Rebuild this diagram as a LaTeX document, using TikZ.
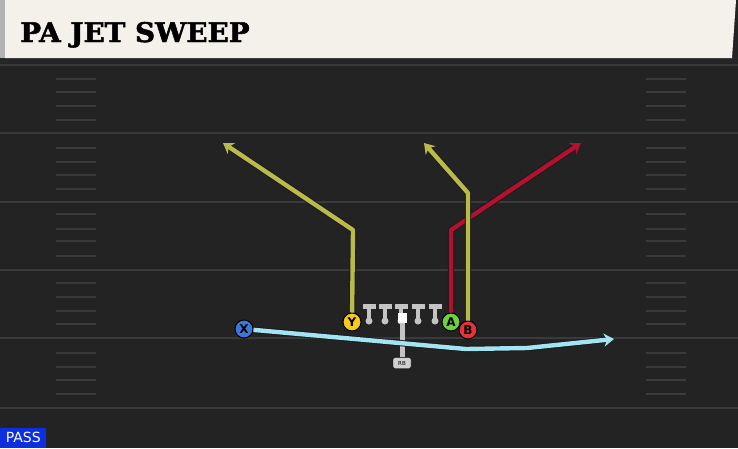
\documentclass[tikz,border=0pt]{standalone}
\usepackage{fontspec}
\setsansfont{DejaVu Sans}
\newfontfamily\titlefont[BoldFont={DejaVu Serif Bold}, BoldFeatures={FakeBold=1.8}]{DejaVu Serif}
\usetikzlibrary{arrows.meta}

\definecolor{field}{HTML}{232323}
\definecolor{yardgray}{HTML}{3A3A3A}
\definecolor{cream}{HTML}{F4F1EA}
\definecolor{olive}{HTML}{BABA4A}
\definecolor{routered}{HTML}{B2122F}
\definecolor{routeblue}{HTML}{A2E4F2}
\definecolor{linegray}{HTML}{C4C4C4}
\definecolor{passblue}{HTML}{0D2FE0}

\tikzset{
  player/.style={circle, draw=black, line width=1pt, minimum size=18pt, inner sep=0pt,
    font=\sffamily\bfseries\fontsize{12}{12}\selectfont},
  route/.style={line width=4.4pt, line join=round,
    preaction={draw=black!90, line width=6.2pt},
    -{Stealth[length=10pt,width=13pt,inset=3pt]}},
  yardline/.style={draw=yardgray, line width=2pt},
  hashline/.style={draw=yardgray, line width=1.6pt},
}

\begin{document}
\begin{tikzpicture}[x=1pt,y=-1pt]
    \useasboundingbox (0,0) rectangle (738,448);
    % field
    \fill[field] (0,0) rectangle (738,448);
    \foreach \y in {65,133,202,270,338,408}
      \draw[yardline] (0,\y) -- (738,\y);
    \foreach \y in {79,92,106,120,148,162,175,189,214,229,241,256,283,297,311,324,353,367,380,394} {
      \draw[hashline] (56,\y) -- (96,\y);
      \draw[hashline] (646,\y) -- (686,\y);
    }
    % header
    \begin{scope}
      \fill[black!85] (0,57) rectangle (738,63);
      \fill[cream] (5,0) -- (736,0) -- (732,58) -- (5,58) -- cycle;
      \fill[black!30] (0,0) rectangle (5,58);
      \node[anchor=base west, inner sep=0pt, font=\titlefont\bfseries\fontsize{27}{27}\selectfont] (title) at (20,42)
        {\scalebox{1.03}[1]{PA JET SWEEP}};
    \end{scope}
    % line
    \foreach \x in {369,385,401,418,435} {
      \fill[linegray] (\x-6.5,303.5) rectangle (\x+6.5,309);
      \fill[linegray] (\x-2,309) rectangle (\x+2,320);
      \fill[linegray] (\x,321) circle (3.5);
    }
    \node[fill=white, minimum width=9pt, minimum height=10pt, inner sep=0pt] (C) at (402,318) {};
    \node[draw=black, fill=linegray!80, rounded corners=2pt, minimum width=18pt, minimum height=11pt, inner sep=0pt,
      font=\sffamily\fontsize{5.5}{5.5}\selectfont] (RB) at (402,363) {RB};
    \draw[linegray, line width=5pt] (C) -- (RB);
    % players
    \node[player, fill={rgb,255:red,60;green,120;blue,220}] (X) at (244,329) {X};
    \node[player, fill={rgb,255:red,247;green,200;blue,30}] (Y) at (352,322) {Y};
    \node[player, fill={rgb,255:red,110;green,210;blue,60}] (A) at (451,322) {A};
    \node[player, fill={rgb,255:red,232;green,48;blue,58}] (B) at (468,330) {B};
    % routes
    \coordinate (ycut) at (353,230);
    \coordinate (yend) at (223,143);
    \coordinate (bcut) at (468,193);
    \coordinate (bend) at (424,143);
    \coordinate (acut) at (451,230);
    \coordinate (aend) at (581,143);
    \coordinate (xmid) at (466,349);
    \coordinate (xflat) at (527,348);
    \coordinate (xend) at (614,339);
    \draw[route, olive] (Y) -- (ycut) -- (yend);
    \draw[route, routered] (A) -- (acut) -- (aend);
    \draw[route, olive] (B) -- (bcut) -- (bend);
    \draw[route, routeblue] (X) -- (xmid) -- (xflat) -- (xend);
    % tag
    \node[fill=passblue, text=white, anchor=south west, minimum width=46pt, minimum height=20pt, inner sep=0pt,
      font=\sffamily\fontsize{14}{14}\selectfont] (pass) at (0,448) {PASS};
\end{tikzpicture}
\end{document}
